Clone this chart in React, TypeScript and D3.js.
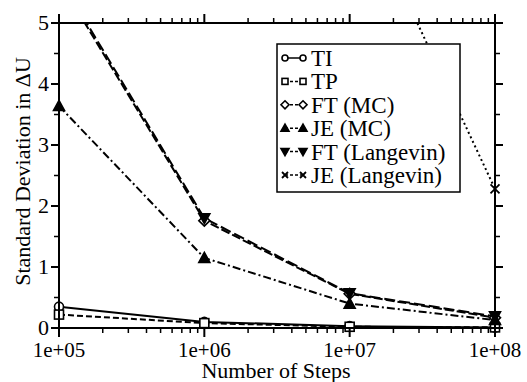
import React from 'react'
import * as d3 from 'd3'

const steps = [1e5, 1e6, 1e7, 1e8]
const yTicks = [0, 1, 2, 3, 4, 5]
const xTickLabels = ['1e+05', '1e+06', '1e+07', '1e+08']

const ti = [0.35, 0.1, 0.03, 0.01]
const tp = [0.22, 0.08, 0.02, 0.01]
const ftMC = [5.7, 1.76, 0.56, 0.17]
const jeMC = [3.64, 1.15, 0.4, 0.13]
const ftLangevin = [5.75, 1.8, 0.57, 0.19]
const jeLangevin = [70, 23, 7.37, 2.28]

const series = [
  { name: 'TI', values: ti, dash: '', symbol: 'circle', fill: 'white' },
  { name: 'TP', values: tp, dash: '6,3', symbol: 'square', fill: 'white' },
  { name: 'FT (MC)', values: ftMC, dash: '9,3', symbol: 'diamond', fill: 'white' },
  { name: 'JE (MC)', values: jeMC, dash: '8,3,2,3', symbol: 'triUp', fill: 'black' },
  { name: 'FT (Langevin)', values: ftLangevin, dash: '11,4', symbol: 'triDown', fill: 'black' },
  { name: 'JE (Langevin)', values: jeLangevin, dash: '2,3', symbol: 'cross', fill: 'none' },
]

const W = 527
const H = 382
const m = { left: 59, right: 32, top: 23, bottom: 54 }
const FONT = 'Liberation Serif, Times New Roman, Times, DejaVu Serif, serif'

const Marker = ({ kind, x, y, fill, s = 4.5 }: { kind: string; x: number; y: number; fill: string; s?: number }) => {
  const common = { stroke: 'black', strokeWidth: 1.6, fill }
  if (kind === 'circle') return <circle cx={x} cy={y} r={s} {...common} />
  if (kind === 'square') return <rect x={x - s} y={y - s} width={s * 2} height={s * 2} {...common} />
  if (kind === 'diamond')
    return <path d={`M${x},${y - s - 1}L${x + s + 1},${y}L${x},${y + s + 1}L${x - s - 1},${y}Z`} {...common} />
  if (kind === 'triUp')
    return <path d={`M${x},${y - s - 1}L${x + s + 1},${y + s}L${x - s - 1},${y + s}Z`} {...common} />
  if (kind === 'triDown')
    return <path d={`M${x},${y + s + 1}L${x + s + 1},${y - s}L${x - s - 1},${y - s}Z`} {...common} />
  return (
    <path d={`M${x - s},${y - s}L${x + s},${y + s}M${x - s},${y + s}L${x + s},${y - s}`} stroke="black" strokeWidth={1.8} />
  )
}

export default function App() {
  const x = d3.scaleLog().domain([1e5, 1e8]).range([m.left, W - m.right])
  const y = d3.scaleLinear().domain([0, 5]).range([H - m.bottom, m.top])

  const line = d3
    .line<number>()
    .x((d, i) => x(steps[i]))
    .y((d) => y(d))

  // minor log ticks 2..9 per decade
  const minorX: number[] = []
  for (let e = 5; e < 8; e++) for (let k = 2; k < 10; k++) minorX.push(k * Math.pow(10, e))
  const minorY = d3.range(0.5, 5, 1)

  const x0 = x.range()[0]
  const x1 = x.range()[1]
  const y0 = y.range()[0]
  const y1 = y.range()[1]

  const legX = 277
  const legY = 44
  const rowH = 23.4

  return (
    <svg width={W} height={H} style={{ position: 'absolute', left: 0, top: 0, background: 'white' }}>
      <defs>
        <clipPath id="plot">
          <rect x={0} y={y1} width={W} height={y0 - y1 + 10} />
        </clipPath>
      </defs>

      {/* data */}
      <g clipPath="url(#plot)">
        {series.map((s) => (
          <path key={s.name} d={line(s.values) || ''} fill="none" stroke="black" strokeWidth={2} strokeDasharray={s.dash} />
        ))}
        {series.map((s) =>
          s.values.map((v, i) => <Marker key={s.name + i} kind={s.symbol} x={x(steps[i])} y={y(v)} fill={s.fill} />)
        )}
      </g>

      {/* frame */}
      <rect x={x0} y={y1} width={x1 - x0} height={y0 - y1} fill="none" stroke="black" strokeWidth={2} />

      {/* x ticks bottom and top */}
      {steps.map((v) => (
        <g key={'xt' + v}>
          <line x1={x(v)} x2={x(v)} y1={y0} y2={y0 + 9} stroke="black" strokeWidth={2} />
          <line x1={x(v)} x2={x(v)} y1={y1} y2={y1 - 9} stroke="black" strokeWidth={2} />
        </g>
      ))}
      {minorX.map((v) => (
        <g key={'xm' + v}>
          <line x1={x(v)} x2={x(v)} y1={y0} y2={y0 + 5} stroke="black" strokeWidth={1.5} />
          <line x1={x(v)} x2={x(v)} y1={y1} y2={y1 - 5} stroke="black" strokeWidth={1.5} />
        </g>
      ))}
      {steps.map((v, i) => (
        <text key={'xl' + v} x={x(v)} y={y0 + 29} fontSize={21} fontFamily={FONT} textAnchor="middle">
          {xTickLabels[i]}
        </text>
      ))}

      {/* y ticks left and right */}
      {yTicks.map((v) => (
        <g key={'yt' + v}>
          <line x1={x0} x2={x0 - 8} y1={y(v)} y2={y(v)} stroke="black" strokeWidth={2} />
          <line x1={x1} x2={x1 + 8} y1={y(v)} y2={y(v)} stroke="black" strokeWidth={2} />
          <text x={x0 - 10} y={y(v)} dy="0.3em" fontSize={22} fontFamily={FONT} textAnchor="end">
            {v}
          </text>
        </g>
      ))}
      {minorY.map((v) => (
        <g key={'ym' + v}>
          <line x1={x0} x2={x0 - 5} y1={y(v)} y2={y(v)} stroke="black" strokeWidth={1.5} />
          <line x1={x1} x2={x1 + 5} y1={y(v)} y2={y(v)} stroke="black" strokeWidth={1.5} />
        </g>
      ))}

      {/* axis titles */}
      <text x={(x0 + x1) / 2 - 1} y={H - 4} fontSize={22} fontFamily={FONT} textAnchor="middle">
        Number of Steps
      </text>
      <text
        transform={`translate(30, ${(y0 + y1) / 2 - 4}) rotate(-90)`}
        fontSize={22}
        fontFamily={FONT}
        textAnchor="middle"
      >
        Standard Deviation in ΔU
      </text>

      {/* legend */}
      <rect x={legX} y={legY} width={183} height={148} fill="white" stroke="black" strokeWidth={1.5} />
      {series.map((s, i) => {
        const cy = legY + 14 + i * rowH
        return (
          <g key={'lg' + s.name}>
            <line x1={legX + 8} x2={legX + 26} y1={cy} y2={cy} stroke="black" strokeWidth={1.5} strokeDasharray={s.dash ? '3,2' : ''} />
            <Marker kind={s.symbol} x={legX + 8} y={cy} fill={s.fill} s={3} />
            <Marker kind={s.symbol} x={legX + 26} y={cy} fill={s.fill} s={3} />
            <text x={legX + 34} y={cy} dy="0.35em" fontSize={23} fontFamily={FONT}>
              {s.name}
            </text>
          </g>
        )
      })}
    </svg>
  )
}
